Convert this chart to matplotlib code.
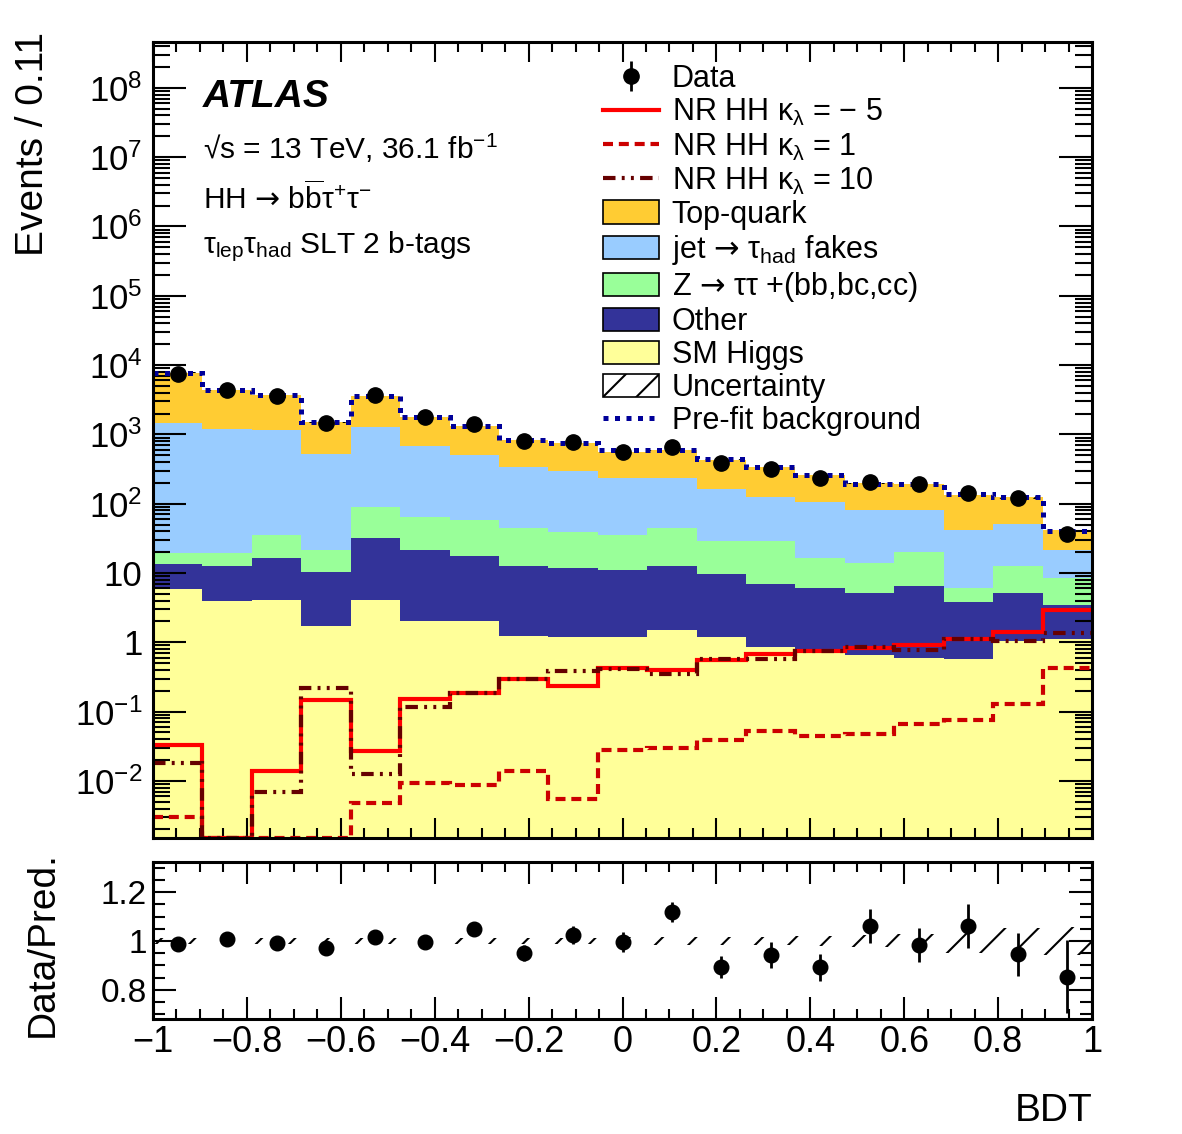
"""
BDT distribution, tau_lep tau_had SLT 2 b-tags, with data / prediction ratio.
"""
import numpy as np
import matplotlib
matplotlib.use("Agg")
import matplotlib.pyplot as plt
from matplotlib.ticker import MultipleLocator, LogLocator, FuncFormatter, NullFormatter
from matplotlib.lines import Line2D
from matplotlib.patches import Patch

plt.rcParams['font.family'] = ['Liberation Sans', 'DejaVu Sans']
plt.rcParams['mathtext.fontset'] = 'custom'
plt.rcParams['mathtext.rm'] = 'Liberation Sans'
plt.rcParams['mathtext.it'] = 'Liberation Sans:italic'
plt.rcParams['mathtext.bf'] = 'Liberation Sans:bold'
plt.rcParams['mathtext.sf'] = 'DejaVu Sans'
plt.rcParams['mathtext.default'] = 'regular'
plt.rcParams['hatch.linewidth'] = 1.5

# binning: 19 bins between -1 and 1
n_bins = 19
edges = np.linspace(-1.0, 1.0, n_bins + 1)
centers = 0.5 * (edges[1:] + edges[:-1])

# backgrounds (post-fit), events per bin
sm_higgs = [5.84, 3.96, 4.09, 1.72, 4.09, 2.06, 2.02, 1.25, 1.21, 1.21,
            1.51, 1.18, 0.87, 0.73, 0.66, 0.60, 0.58, 1.05, 1.11]
other = [7.7, 8.7, 12.4, 8.6, 27.7, 19.2, 15.8, 11.2, 10.8, 9.9,
         11.3, 8.6, 6.0, 5.4, 4.5, 5.8, 3.2, 4.1, 2.4]
ztautau = [5.8, 6.6, 19.0, 11.2, 57.2, 42.5, 40.6, 32.3, 27.2, 24.4,
           31.5, 19.6, 22.5, 10.3, 8.9, 13.6, 2.3, 7.4, 5.0]
fakes = [1433, 1170, 1126, 502, 1208, 618, 443, 291, 258, 197,
         189, 135, 95, 89, 67, 62, 36, 39, 12.8]
top_quark = [6318, 3171, 2529, 977, 2328, 1128, 837, 500, 456, 331,
             354, 269, 211, 158, 116, 112, 92, 74, 20.1]

prefit = [7640, 4385, 3715, 1530, 3630, 1806, 1327, 833, 746, 598,
          598, 439, 336, 260, 193, 193, 138, 127, 40.9]

# non-resonant HH signals (0 = empty bin)
hh_km5 = [0.033, 0.0, 0.0141, 0.148, 0.0271, 0.154, 0.184, 0.296, 0.235, 0.423,
          0.400, 0.557, 0.680, 0.751, 0.839, 0.917, 1.11, 1.43, 2.94]
hh_k1 = [0.00305, 0.0, 0.0, 0.0, 0.00486, 0.00927, 0.00875, 0.0138, 0.00544, 0.028,
         0.0296, 0.0391, 0.0527, 0.0451, 0.0482, 0.0665, 0.0759, 0.129, 0.431]
hh_k10 = [0.0180, 0.0, 0.00701, 0.222, 0.0125, 0.118, 0.184, 0.299, 0.387, 0.409,
          0.350, 0.570, 0.570, 0.760, 0.867, 0.777, 1.12, 1.05, 1.38]

data = [7400, 4390, 3630, 1480, 3720, 1810, 1400, 798, 771, 565,
        667, 392, 318, 238, 208, 193, 142, 120, 36]

ratio = [0.986, 1.010, 0.992, 0.972, 1.017, 0.995, 1.051, 0.950, 1.025, 0.995,
         1.118, 0.895, 0.942, 0.892, 1.062, 0.985, 1.062, 0.946, 0.854]
ratio_err = [0.012, 0.015, 0.017, 0.026, 0.017, 0.024, 0.028, 0.034, 0.037, 0.040,
             0.042, 0.045, 0.053, 0.056, 0.071, 0.070, 0.089, 0.088, 0.150]
# relative background uncertainty
bkg_unc = [0.014, 0.014, 0.014, 0.014, 0.014, 0.014, 0.014, 0.014, 0.014, 0.018,
           0.018, 0.018, 0.018, 0.02, 0.024, 0.028, 0.05, 0.054, 0.058]

c_top = '#ffcc33'
c_fake = '#99ccff'
c_z = '#99ff99'
c_other = '#333399'
c_higgs = '#ffff99'

ymin, ymax = 1.5e-3, 4.6e8
arrow = '$\\mathsf{\u2192}$'

fig = plt.figure(figsize=(11.82, 11.34), dpi=100)
ax = fig.add_axes([0.1294, 0.2610, 0.7945, 0.7020])
rax = fig.add_axes([0.1294, 0.1014, 0.7945, 0.1385])

# stacked backgrounds
stack = [(sm_higgs, c_higgs), (other, c_other), (ztautau, c_z), (fakes, c_fake), (top_quark, c_top)]
base = np.full(n_bins, 1e-6)
for vals, col in stack:
    cum = base + np.array(vals)
    ax.stairs(cum, edges, baseline=base, fill=True, color=col, lw=0, zorder=1)
    base = cum
total = base

ax.stairs(total * (1 + np.array(bkg_unc)), edges, baseline=total * (1 - np.array(bkg_unc)),
          fill=True, facecolor='none', edgecolor='black', hatch='/', lw=0, zorder=1.5)

# signals
sig_styles = [
    (hh_km5, '#ff0000', '-'),
    (hh_k1, '#cc0000', (0, (2.4, 1.4))),
    (hh_k10, '#660000', (0, (3.0, 1.5, 0.7, 1.5, 0.7, 1.5))),
]
for vals, col, ls in sig_styles:
    v = np.clip(np.array(vals), ymin, None)
    ax.stairs(v, edges, baseline=None, color=col, lw=3, linestyle=ls, zorder=3)

ax.stairs(prefit, edges, baseline=None, color='#000099', lw=3.6,
          linestyle=(0, (1.0, 1.3)), zorder=3.5)

data_err = np.array(ratio_err) * total
dat = ax.errorbar(centers, data, yerr=data_err, fmt='o', color='black', ms=11,
                  elinewidth=2, capsize=0, zorder=5)

ax.set_xlim(-1, 1)
ax.set_yscale('log')
ax.set_ylim(ymin, ymax)


def log_fmt(v, pos):
    e = int(round(np.log10(v)))
    if e == 0:
        return '1'
    if e == 1:
        return '10'
    return '$10^{%d}$' % e


def lin_fmt(v, pos):
    if abs(v) < 1e-9:
        return '0'
    return ('%g' % round(v, 3)).replace('-', '\u2212')


ax.yaxis.set_major_locator(LogLocator(base=10, numticks=30))
ax.yaxis.set_minor_locator(LogLocator(base=10, subs=np.arange(2, 10), numticks=30))
ax.yaxis.set_major_formatter(FuncFormatter(log_fmt))
ax.yaxis.set_minor_formatter(NullFormatter())
ax.xaxis.set_major_locator(MultipleLocator(0.2))
ax.xaxis.set_minor_locator(MultipleLocator(0.05))
ax.xaxis.set_major_formatter(NullFormatter())

ax.tick_params(axis='both', which='both', direction='in', top=True, right=True, width=1.5)
ax.tick_params(axis='x', which='major', length=14.4)
ax.tick_params(axis='x', which='minor', length=7.2)
ax.tick_params(axis='y', which='major', length=23.8, labelsize=25, pad=7.5)
ax.tick_params(axis='y', which='minor', length=12)
for s in ax.spines.values():
    s.set_linewidth(2.2)
    s.set_zorder(10)

ax.set_ylabel('Events / 0.11', fontsize=28, loc='top')
ax.yaxis.set_label_coords(-0.1086, 1.012)

# annotations
ax.text(0.053, 0.918, 'ATLAS', transform=ax.transAxes, fontsize=28,
        fontweight='bold', fontstyle='italic', va='baseline')
ax.text(0.053, 0.853, r'√s = 13 TeV, 36.1 fb$^{-1}$', transform=ax.transAxes,
        fontsize=21.5, va='baseline')
ax.text(0.053, 0.789, 'HH ' + arrow + r' b$\overline{b}$τ$^{+}$τ$^{-}$', transform=ax.transAxes,
        fontsize=21.5, va='baseline')
ax.text(0.053, 0.735, r'τ$_{lep}$τ$_{had}$ SLT 2 b-tags', transform=ax.transAxes,
        fontsize=21.5, va='baseline')

# legend
handles = [
    dat,
    Line2D([], [], color='#ff0000', lw=3),
    Line2D([], [], color='#cc0000', lw=3, linestyle=(0, (2.4, 1.4))),
    Line2D([], [], color='#660000', lw=3, linestyle=(0, (3.0, 1.5, 0.7, 1.5, 0.7, 1.5))),
    Patch(facecolor=c_top, edgecolor='black', lw=1.2),
    Patch(facecolor=c_fake, edgecolor='black', lw=1.2),
    Patch(facecolor=c_z, edgecolor='black', lw=1.2),
    Patch(facecolor=c_other, edgecolor='black', lw=1.2),
    Patch(facecolor=c_higgs, edgecolor='black', lw=1.2),
    Patch(facecolor='white', edgecolor='black', hatch='/', lw=1.2),
    Line2D([], [], color='#000099', lw=3.6, linestyle=(0, (1.0, 1.3))),
]
labels = [
    'Data',
    r'NR HH $\kappa_{\lambda}$ = $-$ 5',
    r'NR HH $\kappa_{\lambda}$ = 1',
    r'NR HH $\kappa_{\lambda}$ = 10',
    'Top-quark',
    'jet ' + arrow + r' τ$_{had}$ fakes',
    'Z ' + arrow + ' ττ +(bb,bc,cc)',
    'Other',
    'SM Higgs',
    'Uncertainty',
    'Pre-fit background',
]
ax.legend(handles, labels, loc='upper left', bbox_to_anchor=(0.479, 0.972),
          frameon=False, fontsize=22, borderpad=0, borderaxespad=0,
          labelspacing=0.1, handlelength=1.85, handleheight=0.8, handletextpad=0.4)

# ratio panel
unc = np.array(bkg_unc)
rax.stairs(1 + unc, edges, baseline=1 - unc, fill=True, facecolor='none',
           edgecolor='black', hatch='/', lw=0)
rax.errorbar(centers, ratio, yerr=ratio_err, fmt='o', color='black', ms=10.5,
             elinewidth=2, capsize=0, zorder=5)
rax.set_xlim(-1, 1)
rax.set_ylim(0.68, 1.324)
rax.xaxis.set_major_locator(MultipleLocator(0.2))
rax.xaxis.set_minor_locator(MultipleLocator(0.05))
rax.xaxis.set_major_formatter(FuncFormatter(lin_fmt))
rax.yaxis.set_major_locator(MultipleLocator(0.2))
rax.yaxis.set_minor_locator(MultipleLocator(0.05))
rax.yaxis.set_major_formatter(FuncFormatter(lin_fmt))
rax.tick_params(axis='both', which='both', direction='in', top=True, right=True, width=1.5)
rax.tick_params(axis='x', which='major', length=15.6, labelsize=26, pad=4)
rax.tick_params(axis='x', which='minor', length=7.5)
rax.tick_params(axis='y', which='major', length=16.5, labelsize=24, pad=4.5)
rax.tick_params(axis='y', which='minor', length=8.5)
for s in rax.spines.values():
    s.set_linewidth(2.2)

rax.set_ylabel('Data/Pred.', fontsize=28, loc='top')
rax.yaxis.set_label_coords(-0.098, 1.07)
rax.set_xlabel('BDT', fontsize=28, loc='right')
rax.xaxis.set_label_coords(1.0, -0.47)

fig.savefig('out.png', dpi=100)
